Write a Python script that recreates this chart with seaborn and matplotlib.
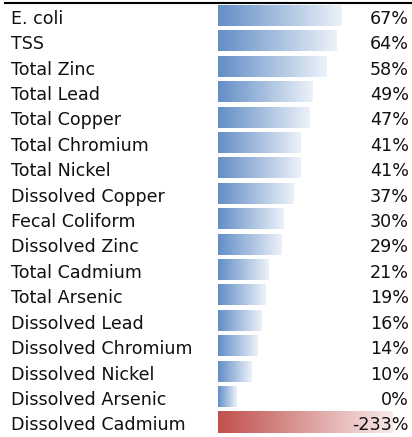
import numpy as np
import pandas as pd
import matplotlib
matplotlib.use("Agg")
import matplotlib.pyplot as plt
import matplotlib.transforms as mtransforms
from matplotlib.colors import to_rgb
import seaborn as sns

# Pollutant removal efficiency by constituent
constituents = [
    "E. coli", "TSS", "Total Zinc", "Total Lead", "Total Copper",
    "Total Chromium", "Total Nickel", "Dissolved Copper", "Fecal Coliform",
    "Dissolved Zinc", "Total Cadmium", "Total Arsenic", "Dissolved Lead",
    "Dissolved Chromium", "Dissolved Nickel", "Dissolved Arsenic",
    "Dissolved Cadmium",
]
removal_pct = [67, 64, 58, 49, 47, 41, 41, 37, 30, 29, 21, 19, 16, 14, 10, 0, -233]

# Data-bar styling: bars have a minimum stub length and are capped at the cell width
BAR_MIN = 11.5
BAR_CAP = 100
POS_COLOR = "#638EC6"
NEG_COLOR = "#C0504D"

values = np.array(removal_pct, dtype=float)
shown = np.minimum(np.abs(values), BAR_CAP) + BAR_MIN
df = pd.DataFrame({"constituent": constituents, "length": shown})

sns.set_theme(style="white")
plt.rcParams["font.family"] = ["DejaVu Sans"]

W, H, DPI = 412, 437, 100
fig = plt.figure(figsize=(W / DPI, H / DPI), dpi=DPI)
ax = fig.add_axes([5 / W, 2.3 / H, 407 / W, 432 / H])

sns.barplot(data=df, x="length", y="constituent", orient="h",
            color=POS_COLOR, width=0.83, ax=ax)

px_per_unit = 1.567
zero_px = 218
x_lo = (5 - zero_px) / px_per_unit
x_hi = (412 - zero_px) / px_per_unit


def gradient_image(color, n=256, fade=0.88):
    c = np.array(to_rgb(color))
    t = np.linspace(0, fade, n)[None, :, None]
    return c[None, None, :] * (1 - t) + t


for patch, v in zip(ax.patches, values):
    col = NEG_COLOR if v < 0 else POS_COLOR
    x0, y0 = patch.get_x(), patch.get_y()
    w, h = patch.get_width(), patch.get_height()
    patch.set_facecolor("none")
    patch.set_edgecolor("none")
    im = ax.imshow(gradient_image(col), extent=[x0, x0 + w, y0 + h, y0],
                   aspect="auto", interpolation="bilinear", zorder=2)
    im.set_clip_path(patch)

ax.set_xlim(x_lo, x_hi)
ax.set_ylim(len(constituents) - 0.5, -0.5)

trans = mtransforms.blended_transform_factory(ax.transAxes, ax.transData)
for i, (name, v) in enumerate(zip(constituents, removal_pct)):
    ax.text(6 / 407, i + 0.33, name, transform=trans, ha="left", va="baseline",
            fontsize=12.6, color="#111111", zorder=3)
    ax.text(404 / 407, i + 0.33, f"{v}%", transform=trans, ha="right",
            va="baseline", fontsize=12.6, color="#111111", zorder=3)

ax.set_xlabel("")
ax.set_ylabel("")
ax.set_xticks([])
ax.set_yticks([])
for side in ("left", "right", "bottom"):
    ax.spines[side].set_visible(False)
ax.spines["top"].set_visible(True)
ax.spines["top"].set_color("black")
ax.spines["top"].set_linewidth(1.5)

fig.savefig("out.png", dpi=DPI, facecolor="white")
